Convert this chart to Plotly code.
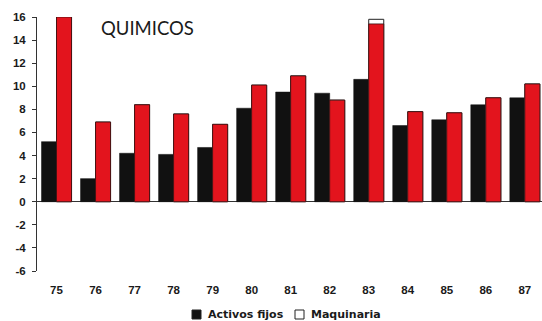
import plotly.graph_objects as go

# Annual series, chemical sector (percent)
years = ["75", "76", "77", "78", "79", "80", "81", "82", "83", "84", "85", "86", "87"]
activos_fijos = [5.2, 2.0, 4.2, 4.1, 4.7, 8.1, 9.5, 9.4, 10.6, 6.6, 7.1, 8.4, 9.0]
maquinaria_rojo = [16.0, 6.9, 8.4, 7.6, 6.7, 10.1, 10.9, 8.8, 15.4, 7.8, 7.7, 9.0, 10.2]
maquinaria = [16.0, 6.9, 8.4, 7.6, 6.7, 10.1, 10.9, 8.8, 15.8, 7.8, 7.7, 9.0, 10.2]
y_ticks = [16, 14, 12, 10, 8, 6, 4, 2, 0, -2, -4, -6]
legend_names = ["Activos fijos", "Maquinaria"]

W, H = 542, 321
M = dict(l=37, r=0, t=17, b=50)
x_idx = list(range(len(years)))
bar_w = 0.385
label_font = dict(family="Liberation Sans", size=11.5, color="#1a1a1a")

fig = go.Figure()

fig.add_trace(go.Bar(
    x=x_idx, y=activos_fijos, width=bar_w, offset=-bar_w,
    marker=dict(color="#111111", line=dict(color="#111111", width=0.5)),
    hoverinfo="skip",
))
fig.add_trace(go.Bar(
    x=x_idx, y=maquinaria, width=bar_w, offset=0,
    marker=dict(color="#ffffff", line=dict(color="#222222", width=1)),
    hoverinfo="skip",
))
fig.add_trace(go.Bar(
    x=x_idx, y=maquinaria_rojo, width=bar_w, offset=0,
    marker=dict(color="#e3141d", line=dict(color="#3a1010", width=0.8)),
    hoverinfo="skip",
))

fig.add_annotation(
    text="QUIMICOS", xref="paper", yref="paper", x=0.218, y=0.957,
    xanchor="center", yanchor="middle", showarrow=False,
    font=dict(family="Lato", size=18.5, color="#1a1a1a"),
)

# Legend drawn below the axis: swatch + label per series
pw = W - M["l"] - M["r"]
ph = H - M["t"] - M["b"]
def px_x(p):
    return (p - M["l"]) / pw
def px_y(p):
    return (H - M["b"] - p) / ph

swatches = [(192, "#111111"), (295, "#ffffff")]
for (sx, fill), name in zip(swatches, legend_names):
    fig.add_shape(
        type="rect", xref="paper", yref="paper",
        x0=px_x(sx), x1=px_x(sx + 9), y0=px_y(319), y1=px_y(310),
        fillcolor=fill, line=dict(color="#222222", width=1),
    )
    fig.add_annotation(
        text=f"<b>{name}</b>", xref="paper", yref="paper",
        x=px_x(sx + 14), y=px_y(314.5), xanchor="left", yanchor="middle",
        showarrow=False,
        font=dict(family="DejaVu Sans", size=11, color="#1a1a1a"),
    )

fig.update_layout(
    width=W, height=H,
    margin=M,
    paper_bgcolor="white", plot_bgcolor="white",
    barmode="overlay",
    showlegend=False,
    xaxis=dict(
        range=[-0.5, 12.44], tickmode="array", tickvals=x_idx,
        ticktext=[f"<b>{y}</b>" for y in years],
        showline=False, showgrid=False, zeroline=False, ticks="",
        ticklabelstandoff=10, tickfont=label_font, fixedrange=True,
    ),
    yaxis=dict(
        range=[-6, 16], tickmode="array", tickvals=y_ticks,
        ticktext=[f"<b>{v}</b>" for v in y_ticks],
        showline=True, linecolor="#333333", linewidth=1,
        ticks="outside", ticklen=4, tickcolor="#333333",
        ticklabelstandoff=4,
        showgrid=False, zeroline=True, zerolinecolor="#333333", zerolinewidth=1,
        tickfont=label_font, fixedrange=True,
    ),
)

fig.write_html("out.html")
